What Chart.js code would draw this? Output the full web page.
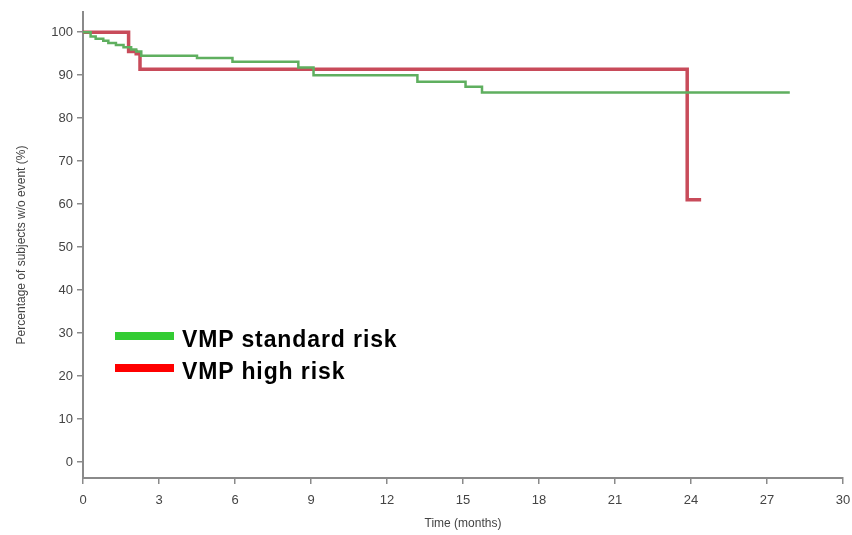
<!DOCTYPE html>
<html>
<head>
<meta charset="utf-8">
<script src="https://cdn.jsdelivr.net/npm/chart.js@4"></script>
<style>
  html, body { margin: 0; padding: 0; background: #fff; }
  #wrap { position: relative; width: 852px; height: 535px; }
  .legend { position: absolute; left: 115px; font: bold 23px "Liberation Sans", Arial, sans-serif; color: #000; letter-spacing: 0.9px; }
  .legend span.swatch { position: absolute; left: 0; width: 59px; height: 8px; }
  .legend span.label { position: absolute; left: 67px; white-space: nowrap; line-height: 23px; }
</style>
</head>
<body>
<div id="wrap">
  <canvas id="km" width="852" height="535"></canvas>
  <div class="legend" style="top:331px"><span class="swatch" style="top:1px;background:#33cc33"></span><span class="label" style="top:-3px">VMP standard risk</span></div>
  <div class="legend" style="top:363px"><span class="swatch" style="top:1px;background:#ff0000"></span><span class="label" style="top:-3px">VMP high risk</span></div>
</div>
<script>
/* ==============================
   Data
============================== */
const seriesNames = ['VMP standard risk', 'VMP high risk'];

// time in months, survival in %
const stdTime  = [0, 0.3, 0.5, 0.8, 1.0, 1.3, 1.6, 1.9, 2.1, 2.3, 4.5, 5.9, 8.5, 9.1, 13.2, 15.1, 15.75, 27.9];
const stdValue = [100, 99, 98.5, 98, 97.5, 97, 96.5, 96, 95.5, 94.5, 94, 93.1, 91.8, 90, 88.5, 87.3, 86, 86];

const highTime  = [0, 1.8, 2.1, 2.25, 23.85, 24.4];
const highValue = [100, 95.5, 95, 91.4, 61, 61];

const xTicks = [0, 3, 6, 9, 12, 15, 18, 21, 24, 27, 30];
const yTicks = [0, 10, 20, 30, 40, 50, 60, 70, 80, 90, 100];

/* ==============================
   Helpers
============================== */
function toPoints(ts, vs) {
    return ts.map((t, i) => ({ x: t, y: vs[i] }));
}

const axisGray = '#8a8a8a';
const tickFont = { family: '"Liberation Sans", Arial, sans-serif', size: 13 };

/* ==============================
   Render chart
============================== */
const config = {
    type: 'line',
    data: {
        datasets: [
            {
                label: seriesNames[0],
                data: toPoints(stdTime, stdValue),
                borderColor: 'rgb(95, 175, 95)',
                borderWidth: 2.5,
                stepped: true,
                pointRadius: 0,
                fill: false
            },
            {
                label: seriesNames[1],
                data: toPoints(highTime, highValue),
                borderColor: 'rgb(200, 75, 90)',
                borderWidth: 3.5,
                stepped: true,
                pointRadius: 0,
                fill: false
            }
        ]
    },
    options: {
        responsive: false,
        animation: false,
        layout: { padding: { top: 12, right: 9, left: 10, bottom: 0 } },
        plugins: { legend: { display: false }, tooltip: { enabled: false } },
        scales: {
            x: {
                type: 'linear',
                min: 0,
                max: 30,
                afterBuildTicks: s => { s.ticks = xTicks.map(v => ({ value: v })); },
                afterFit: s => { s.height = 57; s.paddingLeft = 0; s.paddingRight = 0; },
                grid: { drawOnChartArea: false, drawTicks: true, tickLength: 6, color: axisGray, lineWidth: 1.5 },
                border: { display: true, color: axisGray, width: 2 },
                ticks: { color: '#444', font: tickFont, padding: 9, maxRotation: 0 },
                title: { display: true, text: 'Time (months)', color: '#444', font: { family: tickFont.family, size: 12 }, padding: { top: 0 } }
            },
            y: {
                min: -3.7,
                max: 104.7,
                afterBuildTicks: s => { s.ticks = yTicks.map(v => ({ value: v })); },
                afterFit: s => { s.width = 73; s.paddingTop = 0; s.paddingBottom = 0; },
                grid: { drawOnChartArea: false, drawTicks: true, tickLength: 6, color: axisGray, lineWidth: 1.5 },
                border: { display: true, color: axisGray, width: 2 },
                ticks: { color: '#444', font: tickFont, padding: 4 },
                title: { display: true, text: 'Percentage of subjects w/o event (%)', color: '#444', font: { family: tickFont.family, size: 12 }, padding: { bottom: 10 } }
            }
        }
    }
};

new Chart(document.getElementById('km'), config);
</script>
</body>
</html>
